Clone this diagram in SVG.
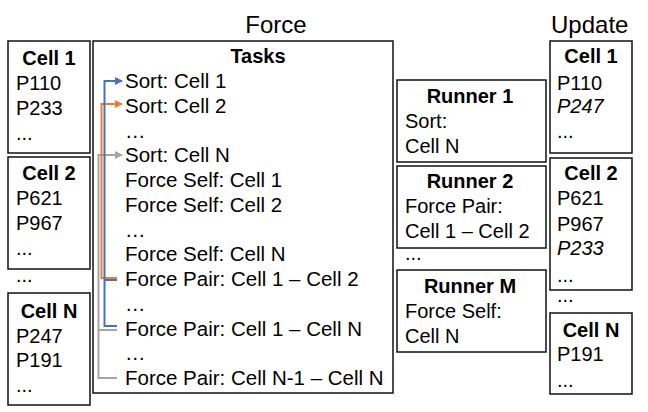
<svg xmlns="http://www.w3.org/2000/svg" width="648" height="412" viewBox="0 0 648 412">
<style>
text{font-family:"Liberation Sans",Arial,sans-serif;font-size:20px;fill:#000}
.t{font-size:24px}
.k{font-size:20.5px}
.b{font-weight:bold;text-anchor:middle}
.i{font-style:italic}
.box{fill:#fff;stroke:#111;stroke-width:1.5}
.ln{fill:none;stroke-width:2}
.blue{stroke:#4472C4}
.orange{stroke:#ED7D31}
.gray{stroke:#A5A5A5}
</style>
<defs>
<marker id="ab" viewBox="0 0 8 8" refX="7" refY="4" markerWidth="4" markerHeight="4" orient="auto" markerUnits="strokeWidth"><path d="M0,0 L8,4 L0,8 z" fill="#4472C4"/></marker>
<marker id="ao" viewBox="0 0 8 8" refX="7" refY="4" markerWidth="4" markerHeight="4" orient="auto" markerUnits="strokeWidth"><path d="M0,0 L8,4 L0,8 z" fill="#ED7D31"/></marker>
<marker id="ag" viewBox="0 0 8 8" refX="7" refY="4" markerWidth="4" markerHeight="4" orient="auto" markerUnits="strokeWidth"><path d="M0,0 L8,4 L0,8 z" fill="#A5A5A5"/></marker>
</defs>
<rect width="648" height="412" fill="#fff"/>
<text class="t" x="276" y="33" text-anchor="middle">Force</text>
<text class="t" x="551" y="33">Update</text>

<g id="left-cell-1">
<rect class="box" x="8" y="41" width="82" height="112"/>
<text class="b" x="49" y="65">Cell 1</text>
<text x="16" y="90">P110</text>
<text x="16" y="115">P233</text>
<text x="16" y="140">...</text>
</g>
<g id="left-cell-2">
<rect class="box" x="8" y="157" width="82" height="112"/>
<text class="b" x="49" y="180">Cell 2</text>
<text x="16" y="205">P621</text>
<text x="16" y="230">P967</text>
<text x="16" y="255">...</text>
</g>
<text x="16" y="282">...</text>
<g id="left-cell-n">
<rect class="box" x="8" y="293" width="82" height="112"/>
<text class="b" x="49" y="318">Cell N</text>
<text x="16" y="343">P247</text>
<text x="16" y="367">P191</text>
<text x="16" y="392">...</text>
</g>

<g id="tasks">
<rect class="box" x="93" y="41" width="300" height="352"/>
<text class="b" x="258" y="63">Tasks</text>
<text class="k" x="125" y="88">Sort: Cell 1</text>
<text class="k" x="125" y="112.75">Sort: Cell 2</text>
<text class="k" x="125" y="137.5">…</text>
<text class="k" x="125" y="162.25">Sort: Cell N</text>
<text class="k" x="125" y="187">Force Self: Cell 1</text>
<text class="k" x="125" y="211.75">Force Self: Cell 2</text>
<text class="k" x="125" y="236.5">…</text>
<text class="k" x="125" y="261.25">Force Self: Cell N</text>
<text class="k" x="125" y="286">Force Pair: Cell 1 – Cell 2</text>
<text class="k" x="125" y="310.75">…</text>
<text class="k" x="125" y="335.5">Force Pair: Cell 1 – Cell N</text>
<text class="k" x="125" y="360.25">…</text>
<text class="k" x="125" y="385">Force Pair: Cell N-1 – Cell N</text>
</g>

<g id="connectors">
<path class="ln gray" d="M117,378 H98.5 V155 H122" marker-end="url(#ag)"/>
<path class="ln gray" d="M98.5,330 H117"/>
<path class="ln orange" d="M117,278 H101.5 V104 H122" marker-end="url(#ao)"/>
<path class="ln blue" d="M117,326 H104.5 V81 H122" marker-end="url(#ab)"/>
<path class="ln blue" d="M104.5,280 H117"/>
</g>

<g id="runner-1">
<rect class="box" x="397" y="80" width="149" height="82"/>
<text class="b" x="470" y="103">Runner 1</text>
<text x="405" y="128">Sort:</text>
<text x="405" y="153">Cell N</text>
</g>
<g id="runner-2">
<rect class="box" x="397" y="166" width="149" height="82"/>
<text class="b" x="470" y="188">Runner 2</text>
<text x="405" y="213">Force Pair:</text>
<text x="405" y="238">Cell 1 – Cell 2</text>
</g>
<text x="405" y="260">...</text>
<g id="runner-m">
<rect class="box" x="397" y="270" width="149" height="82"/>
<text class="b" x="470" y="293">Runner M</text>
<text x="405" y="318">Force Self:</text>
<text x="405" y="343">Cell N</text>
</g>

<g id="right-cell-1">
<rect class="box" x="550" y="41" width="82" height="112"/>
<text class="b" x="591" y="63">Cell 1</text>
<text x="557" y="90">P110</text>
<text class="i" x="557" y="113">P247</text>
<text x="557" y="138">...</text>
</g>
<g id="right-cell-2">
<rect class="box" x="550" y="158" width="82" height="132"/>
<text class="b" x="591" y="180">Cell 2</text>
<text x="557" y="205">P621</text>
<text x="557" y="231">P967</text>
<text class="i" x="557" y="255">P233</text>
<text x="557" y="282">...</text>
</g>
<text x="557" y="302">...</text>
<g id="right-cell-n">
<rect class="box" x="550" y="313" width="82" height="81"/>
<text class="b" x="591" y="337">Cell N</text>
<text x="557" y="361">P191</text>
<text x="557" y="387">...</text>
</g>
</svg>
